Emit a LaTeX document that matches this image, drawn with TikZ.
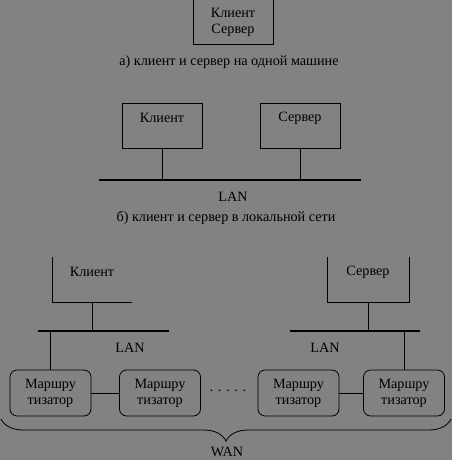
\documentclass[tikz,border=0pt]{standalone}
\usepackage{fontspec}
\setmainfont{Liberation Serif}
\usetikzlibrary{positioning,decorations.pathreplacing}
\definecolor{bggray}{RGB}{131,129,131}
\tikzset{
  hbox/.style={draw=black,line width=0.8pt,minimum width=80pt,minimum height=45pt,inner sep=0pt,align=center},
  rbox/.style={draw=black,line width=0.8pt,rounded corners=7pt,minimum width=81pt,minimum height=46pt,inner sep=0pt,align=center},
  hline/.style={line width=0.8pt,draw=black},
  lan/.style={line width=2pt,draw=black},
  capt/.style={inner sep=0pt}
}

\begin{document}
\begin{tikzpicture}[x=1pt,y=-1pt,font=\fontsize{14.2}{16}\selectfont]
  \fill[bggray] (0,0) rectangle (452,460);
  \useasboundingbox (0,0) rectangle (452,460);
  % a) one machine
  \node[hbox] (mono) at (233,22) {Клиент\\Сервер};
  \node[capt] (capa) at (229,62) {а) клиент и сервер на одной машине};
  % b) local network
  \node[hbox] (cliB) at (162,125.5) {};
  \node[hbox] (srvB) at (300,125.5) {};
  \node[capt] (cliBt) at (162,118) {Клиент};
  \node[capt] (srvBt) at (300,118) {Сервер};
  \coordinate (lanBl) at (99,180);
  \coordinate (lanBr) at (361,180);
  \draw[lan] (lanBl) -- (lanBr);
  \draw[hline] (cliB.south) -- (cliB.south |- lanBl);
  \draw[hline] (srvB.south) -- (srvB.south |- lanBl);
  \node[capt] (lanB) at (233,197) {LAN};
  \node[capt] (capb) at (226,218) {б) клиент и сервер в локальной сети};
  % c) global network
  \coordinate (cTl) at (52,257);
  \coordinate (cBl) at (52,302);
  \coordinate (cBr) at (132,302);
  \coordinate (cBm) at (92,302);
  \draw[hline] (cTl) -- (cBl) -- (cBr);
  \node[capt] (cliC) at (92,272) {Клиент};
  \coordinate (sTl) at (327,257);
  \coordinate (sBl) at (327,302);
  \coordinate (sBr) at (409,302);
  \coordinate (sTr) at (409,257);
  \coordinate (sBm) at (368,302);
  \draw[hline] (sTl) -- (sBl) -- (sBr) -- (sTr);
  \node[capt] (srvC) at (368,272) {Сервер};
  \coordinate (lanL1) at (38,331);
  \coordinate (lanL2) at (169,331);
  \coordinate (lanR1) at (290,331);
  \coordinate (lanR2) at (420,331);
  \draw[lan] (lanL1) -- (lanL2);
  \draw[lan] (lanR1) -- (lanR2);
  \draw[hline] (cBm) -- (cBm |- lanL1);
  \draw[hline] (sBm) -- (sBm |- lanR1);
  \node[capt] (lanCl) at (130,348) {LAN};
  \node[capt] (lanCr) at (325,348) {LAN};
  \node[rbox] (r1) at (50.5,393) {Маршру\\тизатор};
  \node[rbox] (r2) at (160,393) {Маршру\\тизатор};
  \node[rbox] (r3) at (298.5,393) {Маршру\\тизатор};
  \node[rbox] (r4) at (404,393) {Маршру\\тизатор};
  \draw[hline] (r1.north) -- (r1.north |- lanL1);
  \draw[hline] (r4.north) -- (r4.north |- lanR1);
  \draw[hline] (r1) -- (r2);
  \draw[hline] (r3) -- (r4);
  \node[capt] (dots) at (228,393) {· · · · ·};
  \coordinate (wanL) at (1,419);
  \coordinate (wanR) at (451,419);
  \draw[hline,decorate,decoration={brace,mirror,amplitude=22pt}] (wanL) -- (wanR);
  \node[capt] (wan) at (227,452) {WAN};
\end{tikzpicture}
\end{document}
